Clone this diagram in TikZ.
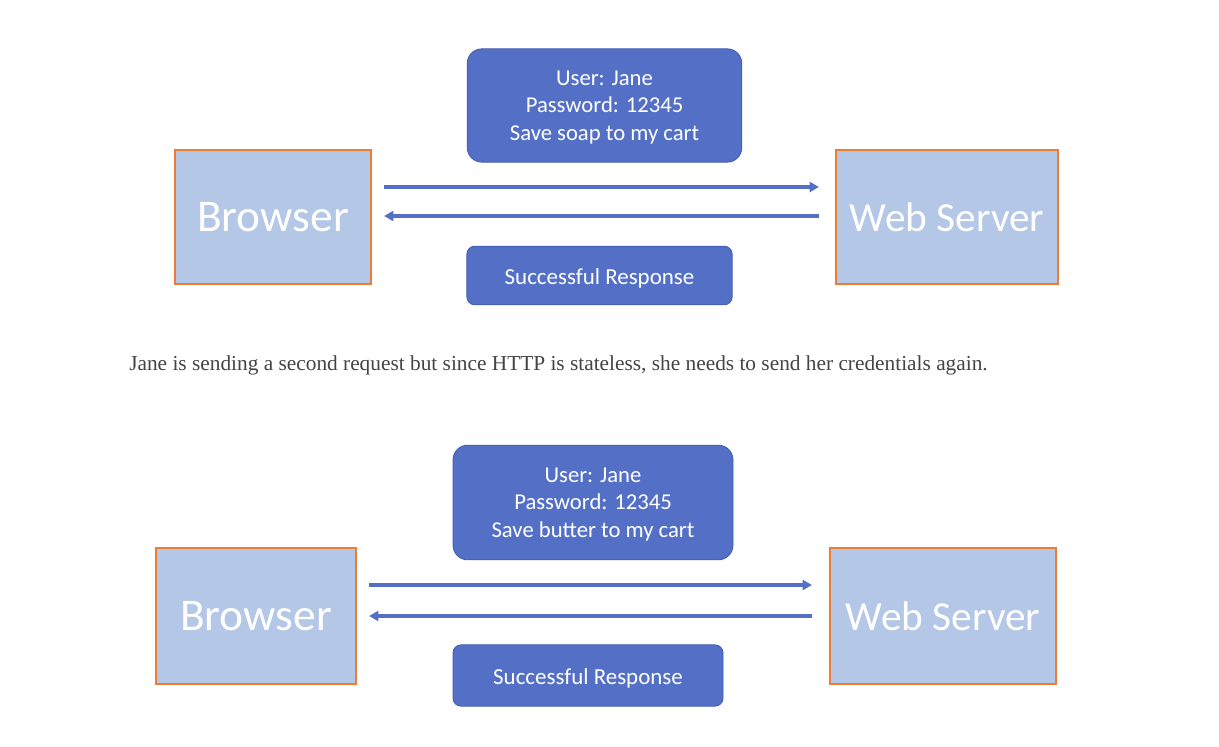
\documentclass[tikz,border=0pt]{standalone}
\usepackage{fontspec}
\setmainfont{Carlito}
\newfontfamily\captionfont{Liberation Serif}
\usetikzlibrary{arrows.meta,positioning,calc}

\definecolor{boxfill}{HTML}{B4C7E7}
\definecolor{boxline}{HTML}{ED7D31}
\definecolor{msgfill}{HTML}{5470C6}
\definecolor{msgline}{HTML}{3F5AAE}
\definecolor{captext}{HTML}{444444}

\begin{document}
\begin{tikzpicture}[x=0.75pt, y=-0.75pt,
            endpoint/.style={draw=boxline, fill=boxfill, line width=1.6pt,
                text=white, font=\fontsize{34}{40}\selectfont,
                minimum height=101pt, inner sep=0pt},
            server/.style={endpoint, font=\fontsize{31}{36}\selectfont},
            message/.style={draw=msgline, fill=msgfill, line width=0.6pt,
                rounded corners=11pt, text=white, align=center,
                font=\fontsize{17}{20.6}\selectfont, inner sep=0pt,
                text depth=0pt},
            reply/.style={message, rounded corners=6pt,
                font=\fontsize{17.2}{20.6}\selectfont,
                text height=13pt, text depth=0pt},
            flow/.style={draw=msgfill, line width=2.3pt,
                -{Triangle[length=7pt,width=7.5pt]}}]
        \useasboundingbox (0,0) rectangle (1219,746);
        % first request
        \node[endpoint, minimum width=147pt] (browserA) at (273,217) {Browser};
        \node[server, minimum width=166.5pt] (serverA) at (947,217) {Web Server};
        \node[message, minimum width=206pt, minimum height=85pt] (credA) at (604.5,105.5)
            {User: Jane\\Password: 12345\\Save soap to my cart};
        \node[reply, minimum width=199pt, minimum height=44pt] (respA) at (599.5,275.5)
            {Successful Response};
        \draw[flow] ($(browserA.east)+(12,-30)$) -- ($(serverA.west)+(-16,-30)$);
        \draw[flow] ($(serverA.west)+(-16,-1)$) -- ($(browserA.east)+(12,-1)$);
        % caption
        \node[text=captext, font=\captionfont\fontsize{16}{19}\selectfont]
            (note) at (558.5,365)
            {Jane is sending a second request but since HTTP is stateless, she needs to send her credentials again.};
        % second request
        \node[endpoint, minimum width=150pt, minimum height=102pt] (browserB) at (256,616) {Browser};
        \node[server, minimum width=169.5pt, minimum height=102pt] (serverB) at (943,616) {Web Server};
        \node[message, minimum width=210pt, minimum height=86pt] (credB) at (593,502.5)
            {User: Jane\\Password: 12345\\Save butter to my cart};
        \node[reply, minimum width=202.5pt, minimum height=46pt] (respB) at (588,675.5)
            {Successful Response};
        \draw[flow] ($(browserB.east)+(12,-31)$) -- ($(serverB.west)+(-17,-31)$);
        \draw[flow] ($(serverB.west)+(-17,0)$) -- ($(browserB.east)+(12,0)$);
\end{tikzpicture}
\end{document}
